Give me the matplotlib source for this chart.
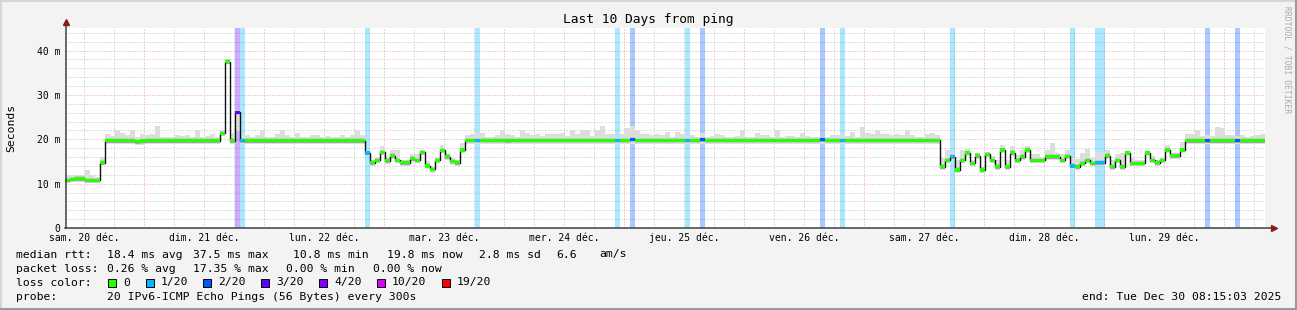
import numpy as np
import pandas as pd
import matplotlib
matplotlib.use("Agg")
import matplotlib.pyplot as plt
from matplotlib.lines import Line2D
from matplotlib.patches import Rectangle

plt.rcParams['font.family'] = ['DejaVu Sans Mono', 'DejaVu Sans']

# ============================================================
# DATA (hourly steps, values in ms)
# ============================================================

start = pd.Timestamp("2025-12-20 08:15:03")
end = pd.Timestamp("2025-12-30 08:15:03")

median_ms = [
    10.8, 11.0, 11.1, 11.1, 10.8, 10.8, 10.8, 14.7, 19.7, 19.7,
    19.7, 19.7, 19.7, 19.7, 19.5, 19.6, 19.7, 19.7, 19.7, 19.7,
    19.7, 19.7, 19.7, 19.7, 19.7, 19.7, 19.7, 19.7, 19.7, 19.7,
    19.7, 21.4, 37.5, 19.7, 26.1, 19.7, 19.7, 19.7, 19.7, 19.7,
    19.7, 19.7, 19.7, 19.7, 19.7, 19.7, 19.7, 19.7, 19.7, 19.7,
    19.7, 19.7, 19.7, 19.7, 19.7, 19.7, 19.7, 19.7, 19.7, 19.7,
    16.9, 14.7, 15.3, 17.1, 15.2, 16.3, 15.3, 14.7, 14.7, 15.6,
    15.3, 17.1, 14.0, 13.2, 15.3, 17.5, 16.1, 15.0, 14.7, 17.6,
    19.8, 19.8, 19.8, 19.8, 19.8, 19.8, 19.8, 19.8, 19.7, 19.8,
    19.8, 19.8, 19.8, 19.8, 19.8, 19.8, 19.8, 19.8, 19.8, 19.8,
    19.8, 19.8, 19.8, 19.8, 19.8, 19.8, 19.8, 19.8, 19.8, 19.8,
    19.8, 19.8, 19.8, 20.0, 19.8, 19.8, 19.8, 19.8, 19.8, 19.8,
    19.8, 19.8, 19.8, 19.8, 19.8, 19.8, 19.8, 19.9, 19.8, 19.8,
    19.8, 19.8, 19.8, 19.8, 19.8, 19.8, 19.8, 19.8, 19.8, 19.8,
    19.8, 19.8, 19.8, 19.8, 19.8, 19.8, 19.8, 19.8, 19.8, 19.8,
    19.8, 19.9, 19.8, 19.8, 19.8, 19.8, 19.8, 19.8, 19.8, 19.8,
    19.8, 19.8, 19.8, 19.8, 19.8, 19.8, 19.8, 19.8, 19.8, 19.8,
    19.8, 19.8, 19.8, 19.8, 19.8, 13.8, 15.3, 16.1, 13.1, 15.3,
    16.9, 14.6, 16.3, 13.1, 16.6, 15.3, 13.8, 17.6, 13.8, 17.0,
    15.3, 16.1, 17.6, 15.3, 15.3, 15.3, 16.1, 16.1, 16.1, 15.3,
    16.2, 14.0, 13.8, 14.6, 15.3, 14.6, 14.7, 14.7, 16.3, 13.8,
    15.3, 13.8, 16.9, 14.6, 14.6, 14.6, 16.9, 15.3, 14.7, 15.3,
    17.6, 16.3, 16.3, 17.6, 19.7, 19.7, 19.7, 19.7, 19.7, 19.7,
    19.7, 19.7, 19.7, 19.7, 19.7, 19.7, 19.7, 19.7, 19.7, 19.7,
]

smoke_hi_ms = [
    12.0, 12.0, 12.0, 12.0, 13.1, 12.0, 11.6, 16.0, 21.2, 20.8,
    22.1, 21.5, 21.0, 22.1, 20.5, 21.2, 21.0, 21.2, 22.9, 20.5,
    20.5, 20.5, 21.0, 20.8, 21.0, 20.5, 22.1, 20.5, 20.8, 21.3,
    20.5, 22.0, 38.0, 21.4, 26.6, 21.0, 21.0, 20.5, 21.0, 22.1,
    20.5, 20.5, 21.3, 22.1, 21.0, 20.5, 21.5, 20.5, 20.5, 21.0,
    21.0, 20.5, 20.8, 20.5, 20.5, 21.0, 20.5, 21.0, 22.0, 21.0,
    17.6, 15.3, 16.1, 18.5, 16.1, 17.5, 17.5, 15.3, 15.3, 16.7,
    16.7, 17.6, 15.0, 13.8, 16.1, 18.7, 16.9, 15.7, 15.3, 19.1,
    21.0, 21.2, 21.5, 21.5, 20.6, 20.6, 21.0, 22.1, 21.2, 21.0,
    20.6, 22.0, 21.5, 21.0, 21.3, 20.8, 21.2, 21.2, 21.3, 21.5,
    20.8, 22.0, 21.2, 22.0, 22.0, 20.8, 22.0, 23.0, 21.3, 21.2,
    20.6, 21.2, 22.5, 22.9, 22.0, 21.3, 21.2, 21.0, 21.3, 21.0,
    21.7, 20.6, 21.7, 21.3, 20.8, 21.0, 20.6, 21.5, 20.6, 20.8,
    21.2, 21.0, 20.6, 20.5, 20.8, 22.0, 20.6, 20.6, 21.5, 21.0,
    21.0, 20.6, 22.0, 20.6, 20.8, 20.8, 20.6, 21.5, 20.8, 20.6,
    20.6, 20.5, 20.5, 21.0, 21.0, 21.2, 20.8, 21.7, 20.6, 22.7,
    21.5, 21.3, 22.1, 21.3, 21.2, 21.0, 21.2, 21.0, 22.1, 21.0,
    20.6, 20.5, 21.3, 21.5, 21.0, 15.7, 17.6, 17.2, 15.3, 17.6,
    17.8, 15.3, 16.9, 13.8, 17.2, 16.3, 15.3, 18.7, 15.3, 18.4,
    16.5, 17.6, 18.5, 16.7, 16.7, 15.5, 17.5, 19.1, 17.0, 16.7,
    17.6, 15.7, 15.5, 16.9, 17.8, 15.7, 17.2, 17.2, 17.6, 15.3,
    16.7, 16.9, 17.0, 15.7, 15.3, 15.3, 17.0, 16.3, 15.3, 15.5,
    18.7, 16.9, 16.9, 19.3, 21.2, 21.2, 22.0, 20.8, 21.0, 20.8,
    22.7, 22.5, 21.0, 21.0, 20.8, 21.0, 20.6, 20.8, 21.0, 21.2,
]

smoke_lo_ms = [
    10.4, 10.4, 10.4, 10.4, 10.4, 10.4, 10.4, 14.2, 18.9, 18.9,
    18.9, 18.9, 18.9, 18.9, 18.8, 18.8, 18.9, 18.9, 18.9, 18.9,
    18.9, 18.9, 18.9, 18.9, 18.9, 18.9, 18.9, 18.9, 18.9, 18.9,
    18.9, 20.8, 37.0, 18.9, 21.8, 18.9, 18.9, 18.9, 18.9, 18.9,
    18.9, 18.9, 18.9, 18.9, 18.9, 18.9, 18.9, 18.9, 18.9, 18.9,
    18.9, 18.9, 18.9, 18.9, 18.9, 18.9, 18.9, 18.9, 18.9, 18.9,
    16.2, 14.0, 14.6, 16.4, 14.5, 15.6, 14.6, 14.0, 14.0, 14.9,
    14.6, 16.4, 13.3, 12.5, 14.6, 16.8, 15.4, 14.3, 14.0, 16.9,
    18.9, 18.9, 18.9, 18.9, 18.9, 18.9, 18.9, 18.9, 18.9, 18.9,
    18.9, 18.9, 18.9, 18.9, 18.9, 18.9, 18.9, 18.9, 18.9, 18.9,
    18.9, 18.9, 18.9, 18.9, 18.9, 18.9, 18.9, 18.9, 18.9, 18.9,
    18.9, 18.9, 18.9, 18.9, 18.9, 18.9, 18.9, 18.9, 18.9, 18.9,
    18.9, 18.9, 18.9, 18.9, 18.9, 18.9, 18.9, 18.9, 18.9, 18.9,
    18.9, 18.9, 18.9, 18.9, 18.9, 18.9, 18.9, 18.9, 18.9, 18.9,
    18.9, 18.9, 18.9, 18.9, 18.9, 18.9, 18.9, 18.9, 18.9, 18.9,
    18.9, 18.9, 18.9, 18.9, 18.9, 18.9, 18.9, 18.9, 18.9, 18.9,
    18.9, 18.9, 18.9, 18.9, 18.9, 18.9, 18.9, 18.9, 18.9, 18.9,
    18.9, 18.9, 18.9, 18.9, 18.9, 13.1, 14.6, 15.4, 12.4, 14.6,
    16.2, 13.9, 15.6, 12.4, 15.9, 14.6, 13.1, 16.9, 13.1, 16.3,
    14.6, 15.4, 16.9, 14.6, 14.6, 14.6, 15.4, 15.4, 15.4, 14.6,
    15.5, 13.3, 13.1, 13.9, 14.6, 13.9, 14.0, 14.0, 15.6, 13.1,
    14.6, 13.1, 16.2, 13.9, 13.9, 13.9, 16.2, 14.6, 14.0, 14.6,
    16.9, 15.6, 15.6, 16.9, 18.9, 18.9, 18.9, 18.9, 18.9, 18.9,
    18.9, 18.9, 18.9, 18.9, 18.9, 18.9, 18.9, 18.9, 18.9, 18.9,
]

# hours with packet loss and their loss class (index into loss_labels)
loss_step = [34, 35, 60, 82, 110, 113, 124, 127, 151, 155, 177, 201, 206, 207, 228, 234]
loss_class = [3, 1, 1, 1, 1, 2, 1, 2, 2, 1, 1, 1, 1, 1, 2, 2]

loss_labels = ["0", "1/20", "2/20", "3/20", "4/20", "10/20", "19/20"]
loss_colors = ["#26ff00", "#00b8ff", "#0059ff", "#5e00ff", "#7e00ff", "#dd00ff", "#ff0000"]

day_labels = [
    "sam. 20 déc.", "dim. 21 déc.", "lun. 22 déc.", "mar. 23 déc.",
    "mer. 24 déc.", "jeu. 25 déc.", "ven. 26 déc.", "sam. 27 déc.",
    "dim. 28 déc.", "lun. 29 déc.",
]

y_ticks = [0, 10, 20, 30, 40]
y_tick_labels = ["0", "10 m", "20 m", "30 m", "40 m"]

rtt_stats = ["18.4 ms avg", "37.5 ms max", "10.8 ms min", "19.8 ms now", "2.8 ms sd", "6.6", "am/s"]
loss_stats = ["0.26 % avg", "17.35 % max", "0.00 % min", "0.00 % now"]
probe_text = "20 IPv6-ICMP Echo Pings (56 Bytes) every 300s"
end_text = "end: Tue Dec 30 08:15:03 2025"

# ============================================================
# FIGURE
# ============================================================

W, H = 1297, 310

fig = plt.figure(figsize=(W / 100, H / 100), dpi=100)
fig.patch.set_facecolor("#f3f3f3")

ax = fig.add_axes([65.25 / W, (H - 228) / H, 1200 / W, 200 / H])
ax.set_facecolor("white")

ymax = 45.1
ax.set_xlim(start, end)
ax.set_ylim(0, ymax)

for s in ax.spines.values():
    s.set_visible(False)

# grid
minor_x = pd.date_range("2025-12-20 12:00", end, freq="6h")
major_x = pd.date_range("2025-12-21 00:00", end, freq="D")

for x in minor_x:
    if x.hour != 0:
        ax.axvline(x, color="#bdbdbd", lw=0.72, ls=(0, (1, 2)), zorder=0)
for x in major_x:
    ax.axvline(x, color="#f09a9a", lw=0.72, ls=(0, (1, 2)), zorder=0)

for y in np.arange(2, ymax, 2):
    if y % 10 == 0:
        ax.axhline(y, color="#f09a9a", lw=0.72, ls=(0, (1, 2)), zorder=0)
    else:
        ax.axhline(y, color="#bdbdbd", lw=0.72, ls=(0, (1, 2)), zorder=0)

# ============================================================
# DATA LAYERS
# ============================================================

t = pd.date_range(start, periods=len(median_ms), freq="h")
step_w = 1 / 24

med = np.array(median_ms)
hi = np.array(smoke_hi_ms)
lo = np.array(smoke_lo_ms)

loss = np.zeros(len(median_ms), dtype=int)
loss[loss_step] = loss_class

# loss bars over the full height
ax.bar(
    t[loss_step], ymax, bottom=0, width=step_w, align="edge",
    color=[loss_colors[c] for c in loss_class], alpha=0.33, lw=0, zorder=1
)

# smoke
ax.bar(t, hi - lo, bottom=lo, width=step_w, align="edge",
       color="#dddddd", lw=0, zorder=2)
ax.bar(t, 1.1, bottom=med - 0.55, width=step_w, align="edge",
       color="#c9c9c9", lw=0, zorder=3)

# median line
edges = list(t) + [end]
ax.step(edges, list(median_ms) + [median_ms[-1]], where="post",
        color="#111111", lw=1.0, zorder=4)

# loss coloured median band
ax.bar(t, 0.72, bottom=med - 0.36, width=step_w, align="edge",
       color=[loss_colors[c] for c in loss], lw=0, zorder=5)

# ticks
ax.set_yticks(y_ticks)
ax.set_yticklabels(y_tick_labels)
ax.set_xticks(pd.date_range("2025-12-20 12:00", periods=len(day_labels), freq="D"))
ax.set_xticklabels(day_labels)
ax.tick_params(axis="both", length=0, labelsize=7, colors="black")
ax.tick_params(axis="x", pad=3.5)
ax.tick_params(axis="y", pad=3.5)

# axis lines with arrows
ax.plot([-0.0005, 1.006], [0, 0], transform=ax.transAxes, color="#404040",
        lw=1.1, clip_on=False, zorder=6)
ax.plot([0.0005, 0.0005], [0, 1.025], transform=ax.transAxes, color="#404040",
        lw=1.1, clip_on=False, zorder=6)
ax.plot([1.0075], [0], transform=ax.transAxes, marker=">", ms=4.2,
        color="#8b1a1a", clip_on=False, zorder=7)
ax.plot([0.0005], [1.03], transform=ax.transAxes, marker="^", ms=4.2,
        color="#8b1a1a", clip_on=False, zorder=7)

# ============================================================
# TEXTS
# ============================================================

def fx(px):
    return px / W

def fy(py):
    return 1 - py / H

fig.text(fx(648), fy(19), "Last 10 Days from ping", ha="center", va="center",
         fontsize=9.3)
fig.text(fx(11), fy(128), "Seconds", rotation=90, ha="center", va="center",
         fontsize=8.2)
fig.text(fx(1287), fy(60), "RRDTOOL / TOBI OETIKER", rotation=270,
         ha="center", va="center", fontsize=5.8, color="#ababab")

fs = 8.2
row_y = [254.5, 268.5, 282.5, 296.5]

fig.text(fx(16), fy(row_y[0]), "median rtt:", va="center", fontsize=fs)
for txt, px in zip(rtt_stats, [107, 193, 293, 387, 479, 556, 599]):
    fig.text(fx(px), fy(row_y[0]), txt, va="center", fontsize=fs)

fig.text(fx(16), fy(row_y[1]), "packet loss:", va="center", fontsize=fs)
for txt, px in zip(loss_stats, [107, 193, 286, 373]):
    fig.text(fx(px), fy(row_y[1]), txt, va="center", fontsize=fs)

fig.text(fx(16), fy(row_y[2]), "loss color:", va="center", fontsize=fs)
box_x = [108, 146, 203, 261, 319, 377, 442]
for lab, col, bx in zip(loss_labels, loss_colors, box_x):
    fig.add_artist(Rectangle((fx(bx), fy(row_y[2] + 4.5)), 8 / W, 8 / H,
                             transform=fig.transFigure, facecolor=col,
                             edgecolor="black", lw=0.7))
    fig.text(fx(bx + 15), fy(row_y[2]), lab, va="center", fontsize=fs)

fig.text(fx(16), fy(row_y[3]), "probe:", va="center", fontsize=fs)
fig.text(fx(107), fy(row_y[3]), probe_text, va="center", fontsize=fs)
fig.text(fx(1281), fy(row_y[3]), end_text, ha="right", va="center", fontsize=fs)

# frame around the image
frame = [
    ([0, W], [0.5, 0.5], "#d6d6d6"),
    ([0.5, 0.5], [0, H], "#d6d6d6"),
    ([0, W], [H - 1, H - 1], "#9a9a9a"),
    ([W - 1, W - 1], [0, H], "#9a9a9a"),
]
for xs, ys, col in frame:
    fig.add_artist(Line2D([fx(v) for v in xs], [fy(v) for v in ys],
                          transform=fig.transFigure, color=col, lw=1.5))

fig.savefig("out.png", dpi=100, facecolor=fig.get_facecolor())
